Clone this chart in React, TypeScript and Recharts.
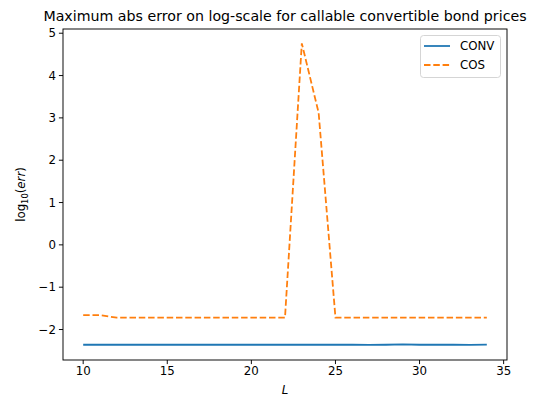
import React from "react";
import { LineChart, Line, XAxis, YAxis } from "recharts";

const Ls = [10, 11, 12, 13, 14, 15, 16, 17, 18, 19, 20, 21, 22, 23, 24, 25, 26, 27, 28, 29, 30, 31, 32, 33, 34];
const conv = [-2.36, -2.36, -2.355, -2.36, -2.36, -2.36, -2.36, -2.355, -2.36, -2.36, -2.36, -2.36, -2.36, -2.355, -2.36, -2.36, -2.36, -2.365, -2.36, -2.35, -2.36, -2.36, -2.36, -2.365, -2.355];
const cos = [-1.66, -1.66, -1.72, -1.72, -1.72, -1.72, -1.72, -1.72, -1.72, -1.72, -1.72, -1.72, -1.72, 4.76, 3.12, -1.72, -1.72, -1.72, -1.72, -1.72, -1.72, -1.72, -1.72, -1.72, -1.72];
const xTicks = [10, 15, 20, 25, 30, 35];
const yTicks = [-2, -1, 0, 1, 2, 3, 4, 5];

const data = Ls.map((L, i) => ({ L, conv: conv[i], cos: cos[i] }));

const FONT = "DejaVu Sans";
const BLUE = "#1f77b4";
const ORANGE = "#ff7f0e";

const W = 546;
const H = 399;
const M = { top: 29, right: 39, bottom: 39, left: 63 };
const PW = W - M.left - M.right;
const PH = H - M.top - M.bottom;

function Overlay() {
  return (
    <svg width={W} height={H} style={{ position: "absolute", left: 0, top: 0, pointerEvents: "none" }}>
      <rect x={M.left} y={M.top} width={PW} height={PH} fill="none" stroke="#000" strokeWidth={0.95} />
      <text x={M.left + PW / 2} y={M.top - 8} textAnchor="middle" fontFamily={FONT} fontSize={14.2} fill="#000">
        Maximum abs error on log-scale for callable convertible bond prices
      </text>
      <text x={M.left + PW / 2} y={394} textAnchor="middle" fontFamily={FONT} fontSize={11.8} fontStyle="italic" fill="#000">
        L
      </text>
      <text transform={`translate(25, ${M.top + PH / 2}) rotate(-90)`} textAnchor="middle" fontFamily={FONT} fontSize={11.8} fill="#000">
        log<tspan fontSize={8.3} dy={3}>10</tspan><tspan dy={-3}>(</tspan><tspan fontStyle="italic">err</tspan>)
      </text>
      <rect x={420.5} y={35.5} width={80} height={42} rx={3} fill="#fff" fillOpacity={0.8} stroke="#d0d0d0" strokeWidth={0.9} />
      <line x1={424} x2={450} y1={46} y2={46} stroke={BLUE} strokeWidth={1.78} />
      <text x={460} y={50} fontFamily={FONT} fontSize={11.8} fill="#000">CONV</text>
      <line x1={424} x2={450} y1={65} y2={65} stroke={ORANGE} strokeWidth={1.78} strokeDasharray="6.5 2.8" />
      <text x={460} y={69} fontFamily={FONT} fontSize={11.8} fill="#000">COS</text>
    </svg>
  );
}

export default function App() {
  return (
    <div style={{ position: "absolute", left: 0, top: 0, width: W, height: H, background: "#fff" }}>
      <LineChart width={W} height={H} data={data} margin={{ top: M.top, right: M.right, bottom: 0, left: 0 }}>
        <XAxis
          dataKey="L"
          type="number"
          domain={[8.8, 35.2]}
          ticks={xTicks}
          allowDataOverflow
          height={M.bottom}
          tickSize={4.1}
          tickMargin={3}
          axisLine={false}
          tickLine={{ stroke: "#000", strokeWidth: 0.95 }}
          tick={{ fill: "#000", fontFamily: FONT, fontSize: 11.8 }}
        />
        <YAxis
          type="number"
          domain={[-2.72, 5.1]}
          ticks={yTicks}
          allowDataOverflow
          width={M.left}
          tickSize={4.1}
          tickMargin={3}
          axisLine={false}
          tickLine={{ stroke: "#000", strokeWidth: 0.95 }}
          tick={{ fill: "#000", fontFamily: FONT, fontSize: 11.8 }}
          tickFormatter={(v: number) => (v < 0 ? "\u2212" + Math.abs(v) : String(v))}
        />
        <Line dataKey="conv" stroke={BLUE} strokeWidth={1.78} dot={false} isAnimationActive={false} type="linear" />
        <Line dataKey="cos" stroke={ORANGE} strokeWidth={1.78} strokeDasharray="6.5 2.8" dot={false} isAnimationActive={false} type="linear" />
      </LineChart>
      <Overlay />
    </div>
  );
}
